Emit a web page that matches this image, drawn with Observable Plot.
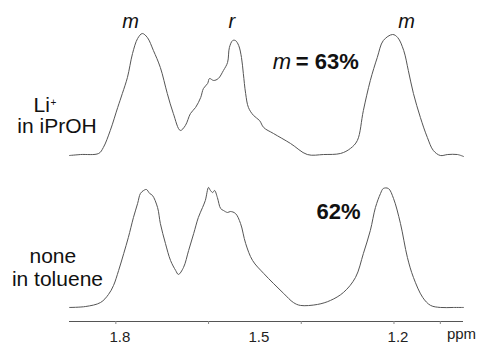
<!DOCTYPE html>
<html><head><meta charset="utf-8">
<script src="https://cdn.jsdelivr.net/npm/d3@7"></script>
<script src="https://cdn.jsdelivr.net/npm/@observablehq/plot@0.6"></script>
<style>body{margin:0;background:#fff} #chart{width:479px;height:345px}</style>
</head><body><div id="chart"></div>
<script>
// Top trace: Li+ in iPrOH (normalized intensity vs ppm)
const ppmTop = [1.900,1.876,1.837,1.827,1.812,1.796,1.786,1.775,1.764,1.753,1.743,1.732,1.719,1.704,1.689,1.676,1.661,1.650,1.639,1.628,1.617,1.611,1.602,1.598,1.589,1.579,1.568,1.559,1.555,1.548,1.542,1.535,1.529,1.525,1.520,1.514,1.503,1.490,1.481,1.460,1.423,1.387,1.352,1.315,1.294,1.279,1.266,1.251,1.236,1.223,1.203,1.192,1.179,1.169,1.158,1.143,1.128,1.115,1.100,1.084,1.063,1.050];
const intTop = [0.000,0.008,0.017,0.066,0.207,0.397,0.512,0.645,0.843,0.967,1.008,0.975,0.868,0.727,0.512,0.347,0.207,0.248,0.347,0.397,0.479,0.554,0.595,0.636,0.620,0.636,0.702,0.769,0.893,0.950,0.950,0.909,0.810,0.678,0.512,0.397,0.331,0.289,0.231,0.182,0.099,0.008,0.008,0.017,0.058,0.124,0.372,0.620,0.810,0.950,1.000,0.975,0.868,0.702,0.512,0.314,0.149,0.041,0.000,0.008,0.008,-0.008];
// Bottom trace: none in toluene
const ppmBottom = [1.900,1.865,1.833,1.816,1.805,1.794,1.783,1.773,1.762,1.753,1.747,1.740,1.734,1.727,1.721,1.710,1.704,1.693,1.682,1.671,1.665,1.654,1.643,1.632,1.622,1.613,1.607,1.600,1.596,1.591,1.587,1.581,1.574,1.568,1.559,1.553,1.542,1.531,1.520,1.505,1.481,1.438,1.417,1.402,1.365,1.337,1.309,1.283,1.266,1.251,1.240,1.229,1.223,1.212,1.201,1.186,1.171,1.158,1.138,1.121,1.100,1.072,1.050];
const intBottom = [0.000,0.008,0.041,0.107,0.182,0.306,0.446,0.579,0.744,0.860,0.942,0.967,0.975,0.942,0.926,0.826,0.694,0.529,0.388,0.306,0.273,0.331,0.471,0.612,0.744,0.826,0.884,0.992,0.967,0.950,0.967,0.909,0.818,0.802,0.785,0.793,0.777,0.694,0.529,0.388,0.281,0.116,0.041,0.017,0.025,0.058,0.124,0.248,0.446,0.636,0.826,0.942,0.983,0.983,0.901,0.694,0.413,0.248,0.083,0.017,0.000,0.000,0.000];
const traceOffset = {top: 1.256, bottom: 0};

const xTicks = [1.8, 1.6, 1.4, 1.2, 1.1];
const xTickLabels = [1.8, 1.5, 1.2];
const xUnit = ["ppm"];

// annotations (ppm, stacked intensity units)
const peakLabels = ["m", "r", "m"];
const peakPpm = [1.768, 1.550, 1.173];
const peakY = [2.359, 2.359, 2.359];
const sampleText = ["Li", "in iPrOH", "none", "in toluene"];
const samplePpm = [1.960, 1.927, 1.936, 1.926];
const sampleY = [1.669, 1.496, 0.421, 0.231];
const supText = ["+"];
const supPpm = [1.941];
const supY = [1.690];
const ratioItalic = ["m"];
const ratioItalicPpm = [1.442];
const ratioItalicY = [2.033];
const ratioBold = ["= 63%", "62%"];
const ratioBoldPpm = [1.412, 1.367];
const ratioBoldY = [2.033, 0.793];

const rows = [
  ...ppmTop.map((p, i) => ({trace: "top", ppm: p, y: intTop[i] + traceOffset.top})),
  ...ppmBottom.map((p, i) => ({trace: "bottom", ppm: p, y: intBottom[i] + traceOffset.bottom}))
];
const ann = (t, p, y) => t.map((s, i) => ({text: s, ppm: p[i], y: y[i]}));
const yMin = -0.116;

const chart = Plot.plot({
  width: 479, height: 345,
  marginLeft: 69, marginRight: 16, marginTop: 0, marginBottom: 24,
  style: {fontFamily: "'Liberation Sans', Arial, sans-serif", background: "#fff", color: "#111", overflow: "visible"},
  x: {domain: [1.9, 1.05], label: null},
  y: {domain: [yMin, 2.537], axis: null},
  marks: [
    Plot.ruleY([yMin], {stroke: "#555", strokeWidth: 1}),
    Plot.axisX({ticks: xTicks, tickSize: 3, tickFormat: () => "", stroke: "#888", label: null}),
    Plot.text(xTickLabels, {x: d => d, text: d => d.toFixed(1), frameAnchor: "bottom", textAnchor: "middle", lineAnchor: "middle", dx: 4, dy: 16, fontSize: 15, fill: "#222"}),
    Plot.text(xUnit, {frameAnchor: "bottom-right", textAnchor: "middle", lineAnchor: "middle", dx: -2, dy: 13, fontSize: 15, fill: "#222"}),
    Plot.line(rows, {x: "ppm", y: "y", z: "trace", stroke: "#555", strokeWidth: 1, curve: "catmull-rom"}),
    Plot.text(ann(peakLabels, peakPpm, peakY), {x: "ppm", y: "y", text: "text", fontSize: 20, fontStyle: "italic", fill: "#111"}),
    Plot.text(ann(sampleText, samplePpm, sampleY), {x: "ppm", y: "y", text: "text", fontSize: 21, fill: "#111"}),
    Plot.text(ann(supText, supPpm, supY), {x: "ppm", y: "y", text: "text", fontSize: 10, textAnchor: "start", fill: "#111"}),
    Plot.text(ann(ratioItalic, ratioItalicPpm, ratioItalicY), {x: "ppm", y: "y", text: "text", fontSize: 22, fontStyle: "italic", fill: "#111"}),
    Plot.text(ann(ratioBold, ratioBoldPpm, ratioBoldY), {x: "ppm", y: "y", text: "text", fontSize: 22, fontWeight: "bold", textAnchor: "start", fill: "#111"})
  ]
});
document.getElementById("chart").appendChild(chart);
</script>
</body></html>
